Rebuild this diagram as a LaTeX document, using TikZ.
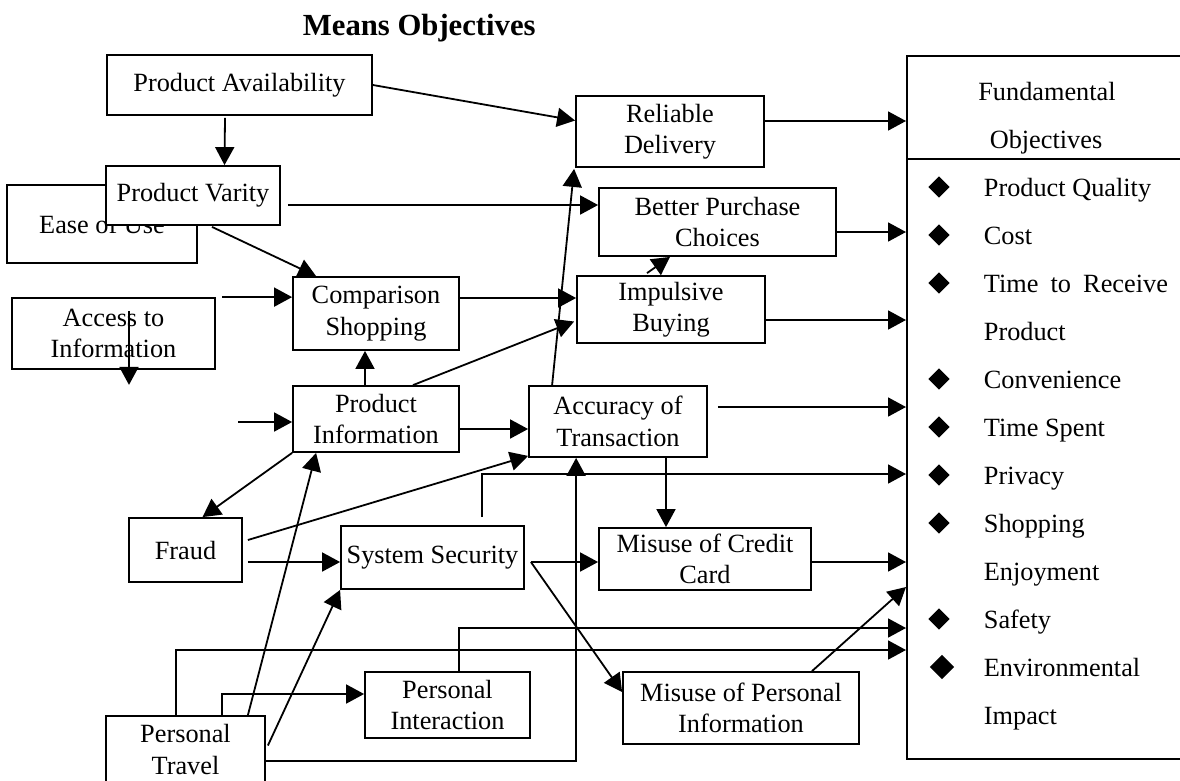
\documentclass[tikz,border=0pt]{standalone}
\usepackage{fontspec}
\setmainfont{Liberation Serif}
\usetikzlibrary{arrows.meta,calc,shapes.geometric}
\newcommand{\bfnt}{\fontsize{26.3}{31.5}\selectfont}
\newcommand{\ttlfnt}{\fontsize{30.7}{36}\selectfont\bfseries}
\begin{document}
\begin{tikzpicture}[x=1pt,y=-1pt,line width=1.8pt,
  box/.style={draw,rectangle,inner sep=0pt,align=center,font=\bfnt,fill=white},
  arr/.style={-{Triangle[length=18pt,width=19pt]}},
  txt/.style={anchor=base west,inner sep=0pt,font=\bfnt},
  dia/.style={diamond,fill=black,draw=none,inner sep=0pt,minimum width=22pt,minimum height=22pt}]
\useasboundingbox (0,0) rectangle (1180,780);
\clip (0,0) rectangle (1180,780);

% title
\node[anchor=base west,inner sep=0pt,font=\ttlfnt] (title) at (302,35) {Means Objectives};

% means boxes
\node[box,minimum width=190pt,minimum height=78pt] (eou) at (102,224) {Ease of Use};
\node[box,minimum width=265pt,minimum height=60pt] (pa) at (239.5,85) {Product Availability};
\node[box,minimum width=174pt,minimum height=59pt] (pv) at (193,195.5) {Product Varity};
\node[box,minimum width=203pt,minimum height=71pt] (ai) at (113.5,333.5) {Access to\\Information};
\node[box,minimum width=166pt,minimum height=73pt] (cs) at (376,313.5) {Comparison\\Shopping};
\node[box,minimum width=166pt,minimum height=66pt] (pi) at (376,419) {Product\\Information};
\node[box,minimum width=113pt,minimum height=64pt] (fr) at (185.5,550) {Fraud};
\node[box,minimum width=159pt,minimum height=67pt] (pt) at (185.5,749.5) {Personal\\Travel};
\node[box,minimum width=183pt,minimum height=63pt] (ss) at (432.5,557.5) {System Security};
\node[box,minimum width=165pt,minimum height=66pt] (pint) at (447.5,705) {Personal\\Interaction};
\node[box,minimum width=188pt,minimum height=71pt] (rd) at (670,131.5) {Reliable\\Delivery};
\node[box,minimum width=237pt,minimum height=68pt] (bpc) at (717.5,222) {Better Purchase\\Choices};
\node[box,minimum width=188pt,minimum height=67pt] (ib) at (671,309.5) {Impulsive\\Buying};
\node[box,minimum width=178pt,minimum height=71pt] (at) at (618,421.5) {Accuracy of\\Transaction};
\node[box,minimum width=212pt,minimum height=62pt] (mcc) at (705,559) {Misuse of Credit\\Card};
\node[box,minimum width=236pt,minimum height=72pt] (mpi) at (741,708) {Misuse of Personal\\Information};

% fundamental objectives
\node[draw,rectangle,inner sep=0pt,minimum width=284pt,minimum height=703pt,anchor=north west] (fo) at (906,55) {};
\draw ($(fo.north west)+(0,104)$) -- ($(fo.north east)+(0,104)$);
\node[anchor=base,inner sep=0pt,font=\bfnt] (fot1) at (1047,100) {Fundamental};
\node[anchor=base,inner sep=0pt,font=\bfnt] (fot2) at (1046,148) {Objectives};

\node[dia] (d1) at (939,187) {};
\node[txt] (l1) at (983,196) {Product Quality};
\node[dia] (d2) at (939,235) {};
\node[txt] (l2) at (983,244) {Cost};
\node[dia] (d3) at (939,283) {};
\node[txt] (l3) at (983,292) {\hbox to 184pt{Time\hfill to\hfill Receive}};
\node[txt] (l3b) at (983,340) {Product};
\node[dia] (d4) at (939,379) {};
\node[txt] (l4) at (983,388) {Convenience};
\node[dia] (d5) at (939,427) {};
\node[txt] (l5) at (983,436) {Time Spent};
\node[dia] (d6) at (939,475) {};
\node[txt] (l6) at (983,484) {Privacy};
\node[dia] (d7) at (939,523) {};
\node[txt] (l7) at (983,532) {Shopping};
\node[txt] (l7b) at (983,580) {Enjoyment};
\node[dia] (d8) at (939,619) {};
\node[txt] (l8) at (983,628) {Safety};
\node[dia,minimum width=25pt,minimum height=25pt] (d9) at (942,667) {};
\node[txt] (l9) at (983,676) {Environmental};
\node[txt] (l9b) at (983,724) {Impact};

% connectors
\draw[arr] ($(pa.south)+(-14.5,2)$) -- ($(pv.north)+(31.5,0)$);
\draw[arr] (pa.east) -- ($(rd.west)+(0,-11)$);
\draw[arr] ($(pv.east)+(7,9.5)$) coordinate (pvs) -- (pvs -| bpc.west);
\draw[arr] ($(pv.south)+(19,1)$) -- ($(cs.north west)+(24,0)$);
\draw[arr] ($(cs.north west)+(-70,21)$) -- ($(cs.north west)+(0,21)$);
\draw[arr] ($(ai.north)+(15.5,14)$) -- ($(ai.south)+(15.5,15)$);
\draw[arr] ($(cs.east)+(0,-15.5)$) coordinate (css) -- (css -| ib.west);
\draw[arr] ($(pi.north)+(-11,0)$) -- ($(cs.south)+(-11,0)$);
\draw[arr] ($(pi.west)+(-54,3)$) -- ($(pi.west)+(0,3)$);
\draw[arr] (pi.south west) -- ($(fr.north)+(17,0)$);
\draw[arr] ($(pi.north)+(37,0)$) -- ($(ib.west)+(-2,12)$);
\draw[arr] ($(pi.east)+(0,10)$) coordinate (pis) -- (pis -| at.west);
\draw[arr] ($(at.north west)+(24,0)$) -- ($(rd.south west)+(-1,1)$);
\draw[arr] ($(at.south)+(48,0)$) -- ($(mcc.north)+(-39,0)$);
\draw[arr] ($(at.east)+(10,-14.5)$) coordinate (ats) -- (ats -| fo.west);
\draw[arr] ($(fr.east)+(5,12)$) coordinate (frs) -- (frs -| ss.west);
\draw[arr] ($(fr.east)+(5,-10)$) -- ($(at.south west)+(0,-2)$);
\draw[arr] ($(pt.north east)+(-18,0)$) -- ($(pi.south west)+(24,0)$);
\draw[arr] ($(pt.east)+(2,-4)$) -- (ss.south west);
\draw[arr] ($(pt.north west)+(71,0)$) |- ($(fo.north west)+(0,595)$);
\draw[arr] ($(pt.north west)+(117,0)$) |- ($(pint.west)+(0,-11)$);
\draw[arr] ($(pt.east)+(0,11.5)$) -| ($(at.south west)+(48,0)$);
\draw[arr] ($(pint.north)+(11.5,0)$) |- ($(fo.north west)+(0,573)$);
\draw[arr] ($(ss.east)+(6,4.5)$) coordinate (sse) -- (sse -| mcc.west);
\draw[arr] (sse) -- ($(mpi.west)+(0,-16)$);
\draw[arr] ($(ss.north)+(49.5,-8)$) |- ($(fo.north west)+(0,419)$);
\draw[arr] ($(ib.north)+(-24,-2)$) -- ($(bpc.south)+(-47.5,0)$);
\draw[arr] ($(ib.east)+(0,10.5)$) coordinate (ibs) -- (ibs -| fo.west);
\draw[arr] ($(bpc.east)+(0,10)$) coordinate (bps) -- (bps -| fo.west);
\draw[arr] ($(rd.east)+(0,-10.5)$) coordinate (rds) -- (rds -| fo.west);
\draw[arr] ($(mcc.east)+(0,3)$) coordinate (mcs) -- (mcs -| fo.west);
\draw[arr] ($(mpi.north)+(71,0)$) -- ($(fo.north west)+(0,532)$);
\end{tikzpicture}
\end{document}
